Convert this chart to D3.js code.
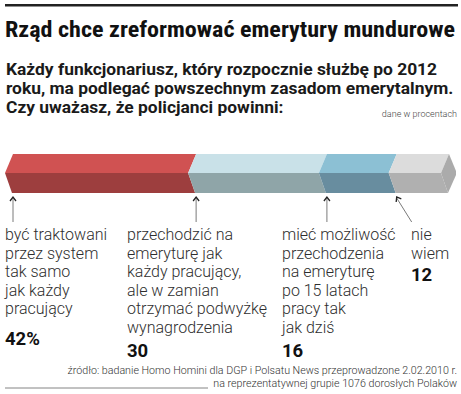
<!DOCTYPE html>
<html>
<head>
<meta charset="utf-8">
<script src="https://cdn.jsdelivr.net/npm/d3@7"></script>
<style>
  html, body { margin: 0; padding: 0; background: #fff; }
  svg { display: block; }
</style>
</head>
<body>
<div id="chart"></div>
<script>
// data
const categories = [
    ["być traktowani", "przez system", "tak samo", "jak każdy", "pracujący"],
    ["przechodzić na", "emeryturę jak", "każdy pracujący,", "ale w zamian", "otrzymać podwyżkę", "wynagrodzenia"],
    ["mieć możliwość", "przechodzenia", "na emeryturę", "po 15 latach", "pracy tak", "jak dziś"],
    ["nie", "wiem"]
];
const values = [42, 30, 16, 12];
const valueLabels = ["42%", "30", "16", "12"];
const topColors = ["#d05252", "#c9e1e8", "#8cc0d4", "#dcdcdc"];
const frontColors = ["#9d3e3e", "#8fa5a8", "#688d9f", "#b0b0b0"];

const title = "Rząd chce zreformować emerytury mundurowe";
const subtitle = [
    "Każdy funkcjonariusz, który rozpocznie służbę po 2012",
    "roku, ma podlegać powszechnym zasadom emerytalnym.",
    "Czy uważasz, że policjanci powinni:"
];
const unitNote = "dane w procentach";
const source = [
    "źródło: badanie Homo Homini dla DGP i Polsatu News przeprowadzone 2.02.2010 r.",
    "na reprezentatywnej grupie 1076 dorosłych Polaków"
];

const width = 461, height = 394;
const svg = d3.select('#chart').append('svg')
    .attr('width', width)
    .attr('height', height);

// header
svg.append('rect')
    .attr('x', 5).attr('y', 4)
    .attr('width', 453).attr('height', 2.5)
    .attr('fill', '#222');

svg.append('text')
    .attr('x', 5).attr('y', 37)
    .attr('textLength', 450)
    .attr('lengthAdjust', 'spacingAndGlyphs')
    .style('font-family', "'Liberation Sans Narrow', 'Roboto Condensed', Roboto, sans-serif")
    .style('font-weight', 700)
    .style('font-size', '22px')
    .style('fill', '#111')
    .text(title);

svg.append('g')
    .selectAll('text')
    .data(subtitle)
    .enter()
    .append('text')
    .attr('x', 6)
    .attr('y', (d, i) => 75 + i * 19.2)
    .style('font-family', "Roboto, 'Open Sans', sans-serif")
    .style('font-weight', 700)
    .style('font-size', '17.4px')
    .style('fill', '#1a1a1a')
    .text(d => d);

svg.append('text')
    .attr('x', 457).attr('y', 117)
    .attr('text-anchor', 'end')
    .style('font-family', "Roboto, sans-serif")
    .style('font-weight', 300)
    .style('font-size', '9px')
    .style('fill', '#444')
    .text(unitNote);

// bar (a flat hexagonal prism split into segments)
const x = d3.scaleLinear()
    .domain([0, d3.sum(values)])
    .range([5, 441]);

const yTop = 154, yMid = 173, yBot = 193;
const offTop = 8, offBot = 7;
const ends = d3.cumsum(values);
const segs = values.map((v, i) => ({ start: ends[i] - v, end: ends[i], i: i }));

const bar = svg.append('g');

bar.selectAll('.top')
    .data(segs)
    .enter()
    .append('polygon')
    .attr('class', 'top')
    .attr('points', d => {
        const x0 = x(d.start), x1 = x(d.end);
        return [[x0 + offTop, yTop], [x1 + offTop, yTop], [x1, yMid], [x0, yMid]].join(' ');
    })
    .style('fill', d => topColors[d.i]);

bar.selectAll('.front')
    .data(segs)
    .enter()
    .append('polygon')
    .attr('class', 'front')
    .attr('points', d => {
        const x0 = x(d.start), x1 = x(d.end);
        return [[x0, yMid], [x1, yMid], [x1 + offBot, yBot], [x0 + offBot, yBot]].join(' ');
    })
    .style('fill', d => frontColors[d.i]);

// right end cap
const xe = x(d3.sum(values));
bar.append('polygon')
    .attr('points', [[xe + offTop, yTop], [xe + 15, yMid - 2], [xe + 15, yMid + 2], [xe + offBot, yBot], [xe, yMid]].join(' '))
    .style('fill', '#ababab');

// pointers
const tailDx = [0, 0, 0, 15];
const arrows = svg.append('g')
    .selectAll('g')
    .data(segs)
    .enter()
    .append('g')
    .attr('transform', d => `translate(${x(d.start) + 8},197)`);

arrows.append('line')
    .attr('x1', 0).attr('y1', 1)
    .attr('x2', d => tailDx[d.i]).attr('y2', 25)
    .style('stroke', '#7a7a7a')
    .style('stroke-width', 1);

arrows.append('path')
    .attr('d', 'M-3,4L0,0L3,4')
    .attr('transform', d => `rotate(${Math.atan2(tailDx[d.i], 25) * -180 / Math.PI})`)
    .style('fill', 'none')
    .style('stroke', '#222')
    .style('stroke-width', 1.3);

// labels
const labelX = [5, 127, 282, 411];
const numberY = [345, 357, 357, 281];
const labels = svg.append('g')
    .selectAll('g')
    .data(segs)
    .enter()
    .append('g');

labels.each(function (d) {
    const g = d3.select(this);
    g.selectAll('text')
        .data(categories[d.i])
        .enter()
        .append('text')
        .attr('x', labelX[d.i])
        .attr('y', (t, j) => 240 + j * 18.5)
        .style('font-family', "Roboto, sans-serif")
        .style('font-weight', 300)
        .style('font-size', '16px')
        .style('fill', '#2e2e2e')
        .text(t => t);

    g.append('text')
        .attr('x', labelX[d.i])
        .attr('y', numberY[d.i])
        .style('font-family', "Roboto, sans-serif")
        .style('font-weight', 700)
        .style('font-size', '18.5px')
        .style('fill', '#111')
        .text(valueLabels[d.i]);
});

// source
svg.append('g')
    .selectAll('text')
    .data(source)
    .enter()
    .append('text')
    .attr('x', 457)
    .attr('y', (d, i) => 374 + i * 12.5)
    .attr('text-anchor', 'end')
    .style('font-family', "Roboto, sans-serif")
    .style('font-weight', 300)
    .style('font-size', '10.7px')
    .style('fill', '#333')
    .text(d => d);

svg.append('line')
    .attr('x1', 5).attr('x2', 208)
    .attr('y1', 388).attr('y2', 388)
    .style('stroke', '#666')
    .style('stroke-width', 0.8);
</script>
</body>
</html>
